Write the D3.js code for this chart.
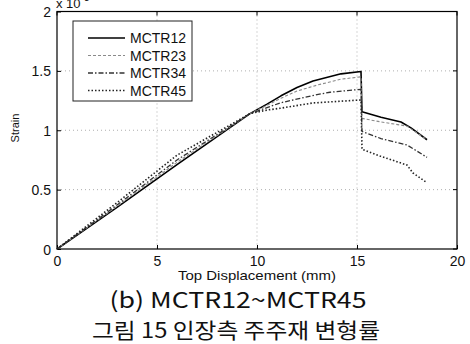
<!DOCTYPE html>
<html>
<head>
<meta charset="utf-8">
<script src="https://cdn.jsdelivr.net/npm/d3@7"></script>
<style>
  html, body { margin: 0; padding: 0; background: #fff; }
  svg { display: block; }
</style>
</head>
<body>
<svg id="chart" width="470" height="344"></svg>
<script>
// Strain vs top displacement for four tension-side rebar gauges
const seriesNames = ["MCTR12", "MCTR23", "MCTR34", "MCTR45"];

const dispMCTR12 = [0, 3, 6, 9.65, 10.5, 11.2, 12, 12.8, 14.2, 15.2, 15.25, 16.2, 17.2, 17.7, 18.5];
const strainMCTR12 = [0, 0.35, 0.71, 1.14, 1.22, 1.29, 1.36, 1.415, 1.475, 1.495, 1.155, 1.11, 1.07, 1.02, 0.92];

const dispMCTR23 = [0, 3, 6, 9.65, 10.5, 11.2, 12, 13, 14.2, 15.2, 15.25, 16.2, 17.5, 18.5];
const strainMCTR23 = [0, 0.36, 0.73, 1.14, 1.21, 1.27, 1.33, 1.38, 1.43, 1.45, 1.10, 1.07, 1.035, 0.92];

const dispMCTR34 = [0, 3, 6, 9.65, 10.5, 11.15, 13, 13.65, 15.2, 15.25, 16.2, 17.5, 18.5];
const strainMCTR34 = [0, 0.37, 0.75, 1.14, 1.19, 1.23, 1.30, 1.32, 1.345, 0.99, 0.93, 0.876, 0.772];

const dispMCTR45 = [0, 3, 6, 9.65, 10.5, 11.15, 12.8, 15.2, 15.25, 16.2, 17.5, 17.8, 18.5];
const strainMCTR45 = [0, 0.39, 0.79, 1.14, 1.17, 1.185, 1.23, 1.255, 0.84, 0.78, 0.707, 0.64, 0.558];

const xTicks = [0, 5, 10, 15, 20];
const yTicks = [0, 0.5, 1, 1.5, 2];

const xLabel = "Top Displacement (mm)";
const yLabel = "Strain";
const captionTop = "(b) MCTR12~MCTR45";
const captionBottom = "그림 15 인장측 주주재 변형률";

const series = [
  { name: seriesNames[0], x: dispMCTR12, y: strainMCTR12, color: "#000", width: 1.6, dash: null },
  { name: seriesNames[1], x: dispMCTR23, y: strainMCTR23, color: "#8a8a8a", width: 1.1, dash: "3,2" },
  { name: seriesNames[2], x: dispMCTR34, y: strainMCTR34, color: "#333", width: 1.3, dash: "5,2,1.5,2" },
  { name: seriesNames[3], x: dispMCTR45, y: strainMCTR45, color: "#222", width: 1.6, dash: "1.5,2" }
];

const svg = d3.select("#chart");
const plotL = 57, plotR = 457, plotT = 11.5, plotB = 249;

const x = d3.scaleLinear().domain([0, 20]).range([plotL, plotR]);
const y = d3.scaleLinear().domain([0, 2]).range([plotB, plotT]);

const font = "'Liberation Sans', Arial, sans-serif";

// grid
const grid = svg.append("g").attr("stroke", "#9a9a9a").attr("stroke-width", 0.8)
  .attr("stroke-dasharray", "1,3");
xTicks.slice(1, -1).forEach(t => {
  grid.append("line").attr("x1", x(t)).attr("x2", x(t)).attr("y1", plotT).attr("y2", plotB);
});
yTicks.slice(1, -1).forEach(t => {
  grid.append("line").attr("x1", plotL).attr("x2", plotR).attr("y1", y(t)).attr("y2", y(t));
});

// axes with inward ticks
const xAxis = d3.axisBottom(x).tickValues(xTicks).tickSize(-4).tickPadding(7).tickFormat(d3.format("d"));
const yAxis = d3.axisLeft(y).tickValues(yTicks).tickSize(-4).tickPadding(6).tickFormat(d => String(d));

const gx = svg.append("g").attr("transform", `translate(0,${plotB})`).call(xAxis);
const gy = svg.append("g").attr("transform", `translate(${plotL},0)`).call(yAxis);
[gx, gy].forEach(g => {
  g.select(".domain").remove();
  g.selectAll("line").attr("stroke", "#000").attr("stroke-width", 1);
  g.selectAll("text").attr("font-family", font).attr("font-size", 14).attr("fill", "#111");
});
gy.selectAll("text").attr("dy", "0.36em");

// top and right ticks
xTicks.forEach(t => svg.append("line").attr("x1", x(t)).attr("x2", x(t))
  .attr("y1", plotT).attr("y2", plotT + 4).attr("stroke", "#000"));
yTicks.forEach(t => svg.append("line").attr("x1", plotR).attr("x2", plotR - 4)
  .attr("y1", y(t)).attr("y2", y(t)).attr("stroke", "#000"));

// frame
svg.append("rect").attr("x", plotL).attr("y", plotT).attr("width", plotR - plotL).attr("height", plotB - plotT)
  .attr("fill", "none").attr("stroke", "#000").attr("stroke-width", 1.2);

// exponent label
const expo = svg.append("text").attr("x", 56).attr("y", 8).attr("font-family", font)
  .attr("font-size", 13).attr("fill", "#111").text("x 10");
expo.append("tspan").attr("dy", -7).attr("font-size", 10).text("-3");

// curves
const line = d3.line().x(d => x(d[0])).y(d => y(d[1]));
series.forEach(s => {
  const pts = s.x.map((v, i) => [v, s.y[i]]);
  svg.append("path").datum(pts).attr("d", line).attr("fill", "none")
    .attr("stroke", s.color).attr("stroke-width", s.width)
    .attr("stroke-dasharray", s.dash).attr("stroke-linejoin", "round");
});

// legend
const lg = svg.append("g");
lg.append("rect").attr("x", 73).attr("y", 21).attr("width", 119).attr("height", 80)
  .attr("fill", "#fff").attr("stroke", "#222").attr("stroke-width", 1);
series.forEach((s, i) => {
  const ry = 38 + i * 17.5;
  lg.append("line").attr("x1", 88).attr("x2", 125).attr("y1", ry).attr("y2", ry)
    .attr("stroke", s.color).attr("stroke-width", s.width).attr("stroke-dasharray", s.dash);
  lg.append("text").attr("x", 130).attr("y", ry).attr("dy", "0.36em")
    .attr("font-family", font).attr("font-size", 14).attr("fill", "#111").text(s.name);
});

// axis labels
svg.append("text").attr("x", 257).attr("y", 280).attr("text-anchor", "middle")
  .attr("font-family", font).attr("font-size", 13).attr("fill", "#111")
  .attr("textLength", 158).attr("lengthAdjust", "spacingAndGlyphs").text(xLabel);
svg.append("text").attr("transform", "translate(19,128) rotate(-90)").attr("text-anchor", "middle")
  .attr("font-family", font).attr("font-size", 11).attr("fill", "#111").text(yLabel);

// captions
svg.append("text").attr("x", 238).attr("y", 308).attr("text-anchor", "middle")
  .attr("font-family", "'Noto Sans CJK KR', sans-serif").attr("font-size", 22).attr("fill", "#111")
  .attr("textLength", 257).attr("lengthAdjust", "spacingAndGlyphs").text(captionTop);
svg.append("text").attr("x", 236).attr("y", 338).attr("text-anchor", "middle")
  .attr("font-family", "'Noto Sans CJK KR', sans-serif").attr("font-size", 21).attr("fill", "#111")
  .attr("textLength", 288).attr("lengthAdjust", "spacingAndGlyphs").text(captionBottom);
</script>
</body>
</html>
